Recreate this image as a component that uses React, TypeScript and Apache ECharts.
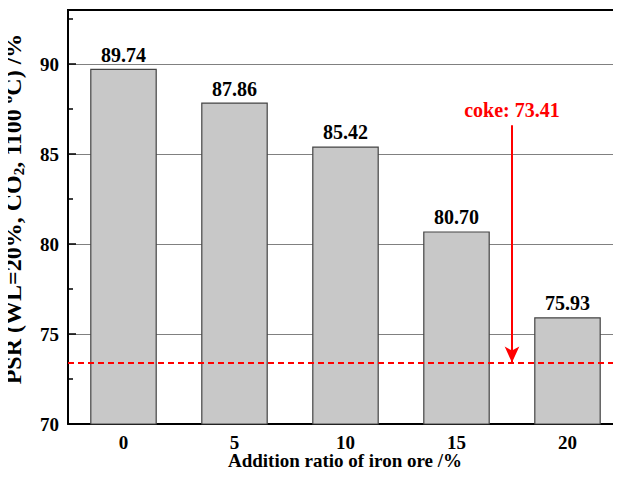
import React, { useEffect, useRef } from "react";
import * as echarts from "echarts";

// Addition ratio of iron ore (%) and the measured post-reaction strength
const categories: string[] = ["0", "5", "10", "15", "20"];
const psrValues: number[] = [89.74, 87.86, 85.42, 80.7, 75.93];
const xTitle = "Addition ratio of iron ore /%";

// Reference value for plain coke
const cokeValue = 73.41;
const cokeArrowTop = 86.6;
const cokeArrowX = 3.5; // halfway between the 15 % and 20 % bars

const FONT = "'Liberation Serif', 'Times New Roman', serif";

export default function App() {
  const ref = useRef<HTMLDivElement>(null);

  useEffect(() => {
    if (!ref.current) return;
    const chart = echarts.init(ref.current, undefined, { renderer: "svg" });

    chart.setOption({
      animation: false,
      backgroundColor: "#ffffff",
      textStyle: { fontFamily: FONT },
      grid: {
        left: 68,
        right: -2,
        top: -26,
        bottom: 54,
        containLabel: false,
        outerBoundsMode: "none",
      },
      xAxis: [
        {
          type: "category",
          data: categories,
          axisLine: { lineStyle: { color: "#000", width: 2 } },
          axisTick: { show: false },
          axisLabel: { fontFamily: FONT, fontWeight: "bold", fontSize: 19, color: "#000", margin: 9 },
          splitLine: { show: false },
        },
        {
          type: "value",
          min: -0.5,
          max: 4.5,
          show: false,
        },
      ],
      yAxis: {
        type: "value",
        min: 70,
        max: 95,
        interval: 5,
        name: "{a|PSR (WL=20%, CO}{sub|2}{a|, 1100 }{sup|o}{a|C) /%}",
        nameLocation: "middle",
        nameRotate: 90,
        nameGap: 42,
        nameTextStyle: {
          padding: [0, 20, 0, 0],
          rich: {
            a: { fontFamily: FONT, fontWeight: "bold", fontSize: 24, color: "#000", lineHeight: 27 },
            sub: { fontFamily: FONT, fontWeight: "bold", fontSize: 15, color: "#000", verticalAlign: "bottom", lineHeight: 27, padding: [12, 0, 0, 0] },
            sup: { fontFamily: FONT, fontWeight: "bold", fontSize: 15, color: "#000", verticalAlign: "top", lineHeight: 27, padding: [0, 0, 10, 0] },
          },
        },
        axisLine: { show: true, onZero: false, lineStyle: { color: "#000", width: 2 } },
        axisTick: { show: true, inside: true, length: 8, lineStyle: { color: "#000", width: 1.5 } },
        minorTick: { show: true, splitNumber: 2, length: 5, lineStyle: { color: "#000", width: 1.5 } },
        axisLabel: {
          fontFamily: FONT,
          fontWeight: "bold",
          fontSize: 19,
          color: "#000",
          margin: 9,
          formatter: (v: number) => (v <= 90 ? String(v) : ""),
        },
        splitLine: {
          show: true,
          lineStyle: { color: "#808080", width: 1.2 },
        },
      },
      series: [
        {
          type: "bar",
          data: psrValues,
          barWidth: "60%",
          itemStyle: { color: "#c8c8c8", borderColor: "#444", borderWidth: 1.2 },
          label: {
            show: true,
            position: "top",
            distance: 4,
            fontFamily: FONT,
            fontWeight: "bold",
            fontSize: 20,
            color: "#000",
            formatter: (p: any) => p.value.toFixed(2),
          },
          markLine: {
            silent: true,
            symbol: ["none", "none"],
            lineStyle: { color: "#ff0000", type: [6, 4], width: 2 },
            label: { show: false },
            data: [{ yAxis: cokeValue }],
          },
          z: 2,
        },
        {
          type: "scatter",
          xAxisIndex: 1,
          data: [[cokeArrowX, cokeValue]],
          symbolSize: 0,
          silent: true,
          markLine: {
            silent: true,
            symbol: ["none", "arrow"],
            symbolSize: [11, 16],
            lineStyle: { color: "#ff0000", type: "solid", width: 2 },
            label: {
              show: true,
              position: "start",
              distance: 5,
              fontFamily: FONT,
              fontWeight: "bold",
              fontSize: 20,
              color: "#ff0000",
              formatter: () => `coke: ${cokeValue.toFixed(2)}`,
            },
            data: [
              [
                { coord: [cokeArrowX, cokeArrowTop] },
                { coord: [cokeArrowX, cokeValue] },
              ],
            ],
          },
          z: 3,
        },
      ],
      graphic: [
        // frame top edge; the value axis runs on past it
        {
          type: "rect",
          shape: { x: 0, y: 0, width: 621, height: 9 },
          style: { fill: "#ffffff" },
          z: 100,
        },
        {
          type: "line",
          shape: { x1: 67, y1: 10, x2: 621, y2: 10 },
          style: { stroke: "#000", lineWidth: 2 },
          z: 101,
        },
        // category axis title
        {
          type: "text",
          x: 345,
          y: 460,
          style: {
            text: xTitle,
            fontFamily: FONT,
            fontWeight: "bold",
            fontSize: 19,
            fill: "#000",
            align: "center",
            verticalAlign: "middle",
          },
          z: 101,
        },
      ],
    });

    return () => chart.dispose();
  }, []);

  return <div ref={ref} style={{ width: 621, height: 478, margin: -8 }} />;
}
